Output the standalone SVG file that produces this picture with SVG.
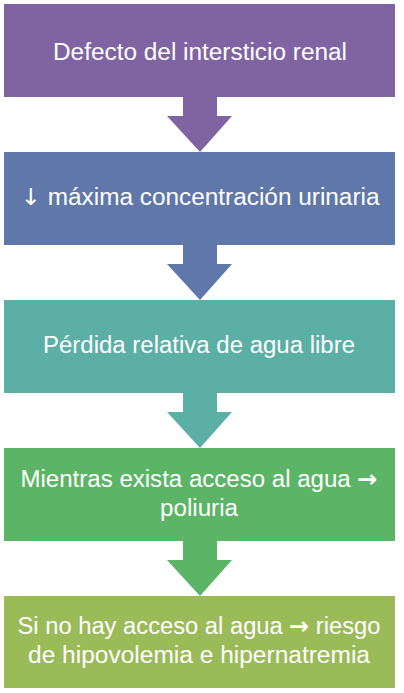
<svg xmlns="http://www.w3.org/2000/svg" width="404" height="693" viewBox="0 0 404 693">
<style>
.t{font-family:"Liberation Sans",Arial,sans-serif;font-size:23.5px;fill:#ffffff;text-anchor:middle}
.a{font-family:"DejaVu Sans",sans-serif;font-weight:bold}
.d{font-family:"DejaVu Sans",sans-serif}
</style>
<rect width="404" height="693" fill="#ffffff"/>
<g id="connectors">
<polygon points="183,97 217,97 217,116 232,116 200,152 167,116 183,116" fill="#8064A2"/>
<polygon points="183,245 217,245 217,264 232,264 200,300 167,264 183,264" fill="#5F77A9"/>
<polygon points="183,393 217,393 217,412 232,412 200,448 167,412 183,412" fill="#5BAFA5"/>
<polygon points="183,541 217,541 217,560 232,560 200,596 167,560 183,560" fill="#5CB466"/>
</g>
<g id="node1">
<rect x="4" y="4" width="391" height="93" fill="#8064A2"/>
<text class="t" x="200" y="60" textLength="294" lengthAdjust="spacingAndGlyphs">Defecto del intersticio renal</text>
</g>
<g id="node2">
<rect x="4" y="152" width="391" height="93" fill="#5F77A9"/>
<text class="t" x="200" y="205" textLength="359" lengthAdjust="spacingAndGlyphs"><tspan class="d">↓</tspan> máxima concentración  urinaria</text>
</g>
<g id="node3">
<rect x="4" y="300" width="391" height="93" fill="#5BAFA5"/>
<text class="t" x="199" y="353" textLength="312" lengthAdjust="spacingAndGlyphs">Pérdida relativa de agua libre</text>
</g>
<g id="node4">
<rect x="4" y="448" width="391" height="93" fill="#5CB466"/>
<text class="t" x="199" y="487" textLength="357" lengthAdjust="spacingAndGlyphs">Mientras  exista acceso al agua <tspan class="a">→</tspan></text>
<text class="t" x="199" y="516" textLength="78" lengthAdjust="spacingAndGlyphs">poliuria</text>
</g>
<g id="node5">
<rect x="4" y="596" width="391" height="92" fill="#9BBB59"/>
<text class="t" x="199" y="634" textLength="363" lengthAdjust="spacingAndGlyphs">Si no hay acceso al agua <tspan class="a">→</tspan> riesgo</text>
<text class="t" x="199" y="663" textLength="342" lengthAdjust="spacingAndGlyphs">de hipovolemia  e hipernatremia</text>
</g>
</svg>
